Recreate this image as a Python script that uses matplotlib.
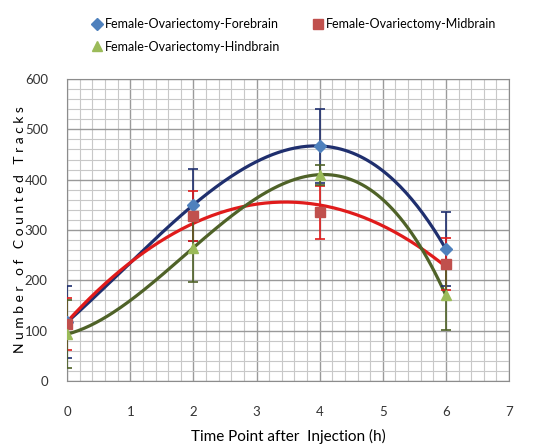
import matplotlib.pyplot as plt
import numpy as np
from matplotlib.ticker import MultipleLocator

plt.rcParams['font.family'] = ['Lato', 'DejaVu Sans']

# time points (h)
hours = [0, 2, 4, 6]

forebrain = [117, 350, 467, 262]
forebrain_err = [72, 72, 73, 73]
midbrain = [113, 328, 335, 232]
midbrain_err = [52, 50, 52, 52]
hindbrain = [93, 265, 410, 170]
hindbrain_err = [67, 68, 20, 68]

# trendline order used for each series
fore_order = 3
mid_order = 2
hind_order = 3

fig = plt.figure(figsize=(5.6, 4.48), dpi=100)
ax = fig.add_axes([0.12, 0.1496, 0.789, 0.674])

xs = np.linspace(0, 6, 200)
series = [
    ("Female-Ovariectomy-Forebrain", forebrain, forebrain_err, fore_order, "D", "#4F81BD", "#1F2F6E"),
    ("Female-Ovariectomy-Midbrain", midbrain, midbrain_err, mid_order, "s", "#C0504D", "#E01B1B"),
    ("Female-Ovariectomy-Hindbrain", hindbrain, hindbrain_err, hind_order, "^", "#9BBB59", "#4F6228"),
]

handles = []
for name, vals, err, order, marker, mcol, lcol in series:
    fit = np.polyfit(hours, vals, order)
    ax.plot(xs, np.polyval(fit, xs), color=lcol, lw=2.3, zorder=3)
    ax.errorbar(hours, vals, yerr=err, fmt="none", ecolor=lcol, elinewidth=1.2,
                capsize=3.5, capthick=1.2, zorder=4)
    h, = ax.plot(hours, vals, linestyle="none", marker=marker, color=mcol,
                 markersize=7 if marker != "D" else 6, zorder=5, label=name)
    handles.append(h)

ax.set_xlim(0, 7)
ax.set_ylim(0, 600)
ax.xaxis.set_major_locator(MultipleLocator(1))
ax.yaxis.set_major_locator(MultipleLocator(100))
ax.xaxis.set_minor_locator(MultipleLocator(0.2))
ax.yaxis.set_minor_locator(MultipleLocator(20))
ax.grid(True, which="major", color="#9a9a9a", lw=1.0, zorder=0)
ax.grid(True, which="minor", color="#c8c8c8", lw=0.8, zorder=0)
ax.set_axisbelow(True)
ax.tick_params(which="both", length=0, labelsize=9.5, colors="#333333")
ax.tick_params(axis="x", pad=18)
ax.tick_params(axis="y", pad=14)
for s in ax.spines.values():
    s.set_color("#8c8c8c")

ax.set_xlabel("Time Point after  Injection (h)", fontsize=11, labelpad=8)
ax.set_ylabel("N u m b e r   o f   C o u n t e d   T r a c k s", fontsize=10)
ax.yaxis.set_label_coords(-0.093, 0.5)

# column-major fill: put Hindbrain second so it lands under Forebrain
order = [handles[0], handles[2], handles[1]]
fig.legend(handles=order, loc="upper left", bbox_to_anchor=(0.14, 0.985), ncol=2,
           frameon=False, fontsize=9, handletextpad=0.05, columnspacing=2.4,
           handlelength=1.2, labelspacing=0.85)

fig.savefig("out.png", dpi=100)
